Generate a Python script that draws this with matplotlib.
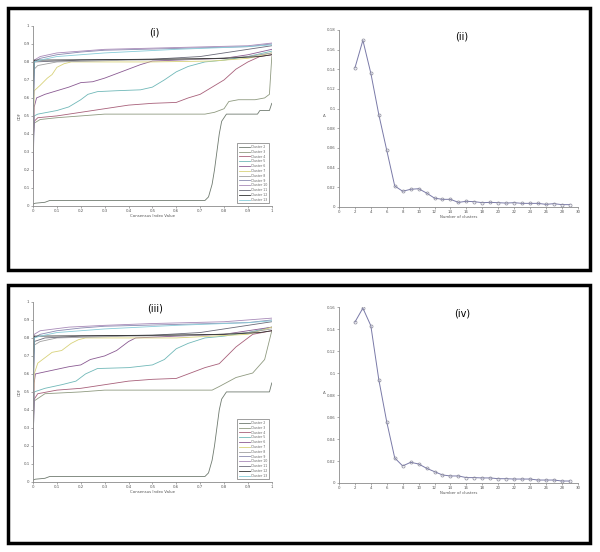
import matplotlib
matplotlib.use("Agg")
import matplotlib.pyplot as plt
from matplotlib.patches import Rectangle
import numpy as np

# ---- consensus CDF curves, panel (i) ----
labels = ["Cluster %d" % k for k in range(2, 14)]

cdf1_x = [
    [0, 0.01, 0.05, 0.07, 0.72, 0.735, 0.75, 0.76, 0.77, 0.78, 0.79, 0.81, 0.94, 0.95, 0.99, 1.0],
    [0, 0.005, 0.03, 0.1, 0.2, 0.3, 0.72, 0.76, 0.8, 0.82, 0.86, 0.93, 0.97, 0.99, 1.0],
    [0, 0.005, 0.02, 0.1, 0.2, 0.3, 0.4, 0.5, 0.6, 0.65, 0.7, 0.75, 0.8, 0.85, 0.9, 0.95, 1.0],
    [0, 0.005, 0.02, 0.1, 0.15, 0.2, 0.23, 0.27, 0.35, 0.45, 0.5, 0.55, 0.6, 0.65, 0.72, 0.8, 0.9, 1.0],
    [0, 0.005, 0.015, 0.05, 0.1, 0.15, 0.2, 0.25, 0.3, 0.38, 0.45, 0.5, 0.6, 0.8, 0.9, 1.0],
    [0, 0.005, 0.03, 0.06, 0.08, 0.1, 0.13, 0.16, 0.2, 0.5, 0.75, 0.9, 1.0],
    [0, 0.005, 0.02, 0.1, 0.4, 0.7, 0.9, 1.0],
    [0, 0.005, 0.03, 0.1, 0.2, 0.3, 0.6, 0.9, 1.0],
    [0, 0.005, 0.03, 0.1, 0.2, 0.3, 0.6, 0.9, 1.0],
    [0, 0.005, 0.2, 0.5, 0.7, 0.8, 0.9, 1.0],
    [0, 0.005, 0.5, 0.8, 0.95, 1.0],
    [0, 0.005, 0.03, 0.1, 0.2, 0.3, 0.6, 0.9, 1.0],
]
cdf1_y = [
    [0.01, 0.015, 0.02, 0.03, 0.03, 0.05, 0.12, 0.2, 0.3, 0.4, 0.47, 0.51, 0.51, 0.53, 0.53, 0.57],
    [0.35, 0.46, 0.48, 0.49, 0.5, 0.51, 0.51, 0.52, 0.54, 0.58, 0.59, 0.59, 0.6, 0.62, 0.83],
    [0.3, 0.47, 0.49, 0.5, 0.52, 0.54, 0.56, 0.57, 0.575, 0.6, 0.62, 0.66, 0.7, 0.76, 0.8, 0.83, 0.84],
    [0.2, 0.5, 0.51, 0.53, 0.55, 0.59, 0.62, 0.635, 0.64, 0.645, 0.66, 0.7, 0.745, 0.775, 0.8, 0.81, 0.83, 0.86],
    [0.1, 0.55, 0.6, 0.62, 0.64, 0.66, 0.685, 0.69, 0.71, 0.75, 0.785, 0.805, 0.81, 0.82, 0.84, 0.87],
    [0.3, 0.64, 0.67, 0.71, 0.73, 0.77, 0.79, 0.8, 0.8, 0.8, 0.805, 0.82, 0.85],
    [0.4, 0.76, 0.78, 0.8, 0.81, 0.815, 0.83, 0.85],
    [0.3, 0.8, 0.82, 0.84, 0.855, 0.865, 0.875, 0.885, 0.9],
    [0.4, 0.81, 0.83, 0.85, 0.86, 0.87, 0.88, 0.89, 0.905],
    [0.5, 0.8, 0.81, 0.815, 0.83, 0.85, 0.87, 0.89],
    [0.6, 0.81, 0.815, 0.82, 0.83, 0.84],
    [0.5, 0.8, 0.81, 0.83, 0.84, 0.85, 0.87, 0.885, 0.895],
]

# ---- panel (iii) ----
cdf3_x = [
    [0, 0.01, 0.05, 0.07, 0.72, 0.735, 0.75, 0.76, 0.77, 0.78, 0.79, 0.81, 0.99, 1.0],
    [0, 0.005, 0.05, 0.2, 0.3, 0.75, 0.78, 0.85, 0.92, 0.97, 1.0],
    [0, 0.005, 0.02, 0.1, 0.2, 0.3, 0.4, 0.5, 0.6, 0.65, 0.72, 0.78, 0.85, 0.92, 1.0],
    [0, 0.005, 0.05, 0.12, 0.18, 0.22, 0.27, 0.4, 0.5, 0.55, 0.6, 0.65, 0.72, 0.8, 0.9, 1.0],
    [0, 0.005, 0.01, 0.08, 0.15, 0.2, 0.24, 0.3, 0.35, 0.4, 0.43, 0.6, 0.8, 0.9, 1.0],
    [0, 0.005, 0.02, 0.04, 0.08, 0.12, 0.16, 0.19, 0.22, 0.6, 0.9, 1.0],
    [0, 0.005, 0.03, 0.1, 0.4, 0.7, 0.9, 1.0],
    [0, 0.005, 0.03, 0.1, 0.2, 0.3, 0.6, 0.9, 1.0],
    [0, 0.005, 0.03, 0.15, 0.3, 0.5, 0.8, 1.0],
    [0, 0.005, 0.05, 0.2, 0.5, 0.7, 0.8, 0.9, 1.0],
    [0, 0.005, 0.5, 0.8, 0.95, 1.0],
    [0, 0.005, 0.03, 0.1, 0.2, 0.3, 0.6, 0.9, 1.0],
]
cdf3_y = [
    [0.01, 0.015, 0.02, 0.03, 0.03, 0.05, 0.12, 0.2, 0.3, 0.4, 0.46, 0.5, 0.5, 0.55],
    [0.3, 0.45, 0.49, 0.5, 0.51, 0.51, 0.53, 0.58, 0.605, 0.68, 0.84],
    [0.2, 0.46, 0.49, 0.51, 0.52, 0.54, 0.56, 0.57, 0.575, 0.6, 0.635, 0.657, 0.75, 0.82, 0.84],
    [0.15, 0.5, 0.52, 0.54, 0.56, 0.6, 0.63, 0.635, 0.65, 0.68, 0.74, 0.77, 0.8, 0.81, 0.83, 0.86],
    [0.1, 0.55, 0.6, 0.62, 0.64, 0.65, 0.68, 0.7, 0.73, 0.78, 0.8, 0.81, 0.82, 0.84, 0.86],
    [0.3, 0.6, 0.66, 0.68, 0.72, 0.73, 0.77, 0.79, 0.8, 0.8, 0.82, 0.86],
    [0.4, 0.76, 0.78, 0.8, 0.81, 0.815, 0.83, 0.85],
    [0.3, 0.8, 0.82, 0.84, 0.855, 0.865, 0.875, 0.885, 0.9],
    [0.4, 0.82, 0.84, 0.86, 0.87, 0.88, 0.89, 0.91],
    [0.5, 0.78, 0.8, 0.81, 0.815, 0.83, 0.85, 0.87, 0.89],
    [0.6, 0.81, 0.815, 0.82, 0.83, 0.84],
    [0.5, 0.8, 0.81, 0.83, 0.84, 0.85, 0.87, 0.885, 0.895],
]

# ---- delta area, panels (ii) and (iv) ----
k_values = list(range(2, 30))
delta_ii = [0.1414, 0.1695, 0.136, 0.094, 0.0576, 0.0214, 0.016, 0.018, 0.0186, 0.0142,
            0.009, 0.0078, 0.0078, 0.0047, 0.0058, 0.0054, 0.0044, 0.0047, 0.0044, 0.004,
            0.0044, 0.0037, 0.0037, 0.0037, 0.0027, 0.0034, 0.0024, 0.0024]
delta_iv = [0.1463, 0.159, 0.143, 0.094, 0.0555, 0.0228, 0.0155, 0.0188, 0.0173, 0.0134,
            0.0103, 0.0073, 0.0064, 0.0064, 0.0049, 0.0049, 0.0046, 0.0046, 0.0039, 0.0039,
            0.0036, 0.0036, 0.0036, 0.0027, 0.0027, 0.0027, 0.0018, 0.0018]

colors = ["#6f7a6f", "#8f9a80", "#a8607a", "#70b8b8", "#8a5a92", "#d8d27a",
          "#a0a0a0", "#8a8ab0", "#a88ab8", "#6a6a78", "#303030", "#88ccd8"]

fs = 2.8

fig = plt.figure(figsize=(6, 5.52), dpi=100)

# the two framed boxes
for (x0, y0, x1, y1) in [(8, 8, 590, 270), (8, 285, 590, 543)]:
    fig.patches.append(Rectangle((x0 / 600, 1 - y1 / 552), (x1 - x0) / 600, (y1 - y0) / 552,
                                 transform=fig.transFigure, fill=False, lw=2.5,
                                 edgecolor="black"))


def style(ax):
    for s in ["top", "right"]:
        ax.spines[s].set_visible(False)
    for s in ["left", "bottom"]:
        ax.spines[s].set_color("#8a8a8a")
        ax.spines[s].set_linewidth(0.6)
    ax.tick_params(labelsize=fs, length=1.5, width=0.5, color="#8a8a8a",
                   labelcolor="#555555", pad=1)


def cdf_panel(rect, xs, ys, title):
    ax = fig.add_axes(rect)
    for i in range(len(xs)):
        ax.plot(xs[i], ys[i], color=colors[i], lw=0.6, label=labels[i])
    ax.set_xlim(0, 1)
    ax.set_ylim(0, 1)
    ax.set_xticks(np.arange(0, 1.01, 0.1))
    ax.set_yticks(np.arange(0, 1.01, 0.1))
    ax.set_xticklabels(["0", "0.1", "0.2", "0.3", "0.4", "0.5", "0.6", "0.7", "0.8", "0.9", "1"])
    ax.set_yticklabels(["0", "0.1", "0.2", "0.3", "0.4", "0.5", "0.6", "0.7", "0.8", "0.9", "1"])
    ax.set_xlabel("Consensus Index Value", fontsize=fs, labelpad=0.5, color="#555555")
    ax.set_ylabel("CDF", fontsize=fs, labelpad=1, color="#555555")
    ax.text(0.51, 0.965, title, transform=ax.transAxes, ha="center", va="center", fontsize=7)
    style(ax)
    leg = ax.legend(loc="lower right", fontsize=2.3, handlelength=3.5, labelspacing=0.25,
                    borderaxespad=0.8, fancybox=False, framealpha=1, borderpad=0.5,
                    handletextpad=0.4)
    leg.get_frame().set_edgecolor("#777777")
    leg.get_frame().set_linewidth(0.5)
    for t in leg.get_texts():
        t.set_color("#666666")
    return ax


def delta_panel(rect, vals, top, title):
    ax = fig.add_axes(rect)
    ax.plot(k_values, vals, color="#7a7aa8", lw=0.7, marker="o", ms=2.2, mfc="none",
            mec="#8a8a9a", mew=0.5)
    ax.set_xlim(0, 30)
    ax.set_ylim(0, top)
    ax.set_xticks(range(0, 31, 2))
    ax.set_yticks(np.arange(0, top + 0.001, 0.02))
    ax.set_yticklabels(["0"] + ["%g" % v for v in np.arange(0.02, top + 0.001, 0.02)])
    ax.set_xlabel("Number of clusters", fontsize=fs, labelpad=0.5, color="#555555")
    ax.set_ylabel("Δ", fontsize=fs, labelpad=2, color="#555555", rotation=0)
    ax.text(0.515, 0.965, title, transform=ax.transAxes, ha="center", va="center", fontsize=7)
    style(ax)
    return ax


cdf_panel([0.055, 0.627, 0.398, 0.326], cdf1_x, cdf1_y, "(i)")
delta_panel([0.565, 0.625, 0.398, 0.3207], delta_ii, 0.18, "(ii)")
cdf_panel([0.055, 0.127, 0.398, 0.326], cdf3_x, cdf3_y, "(iii)")
delta_panel([0.565, 0.125, 0.398, 0.3188], delta_iv, 0.16, "(iv)")

fig.savefig("out.png", dpi=100)
